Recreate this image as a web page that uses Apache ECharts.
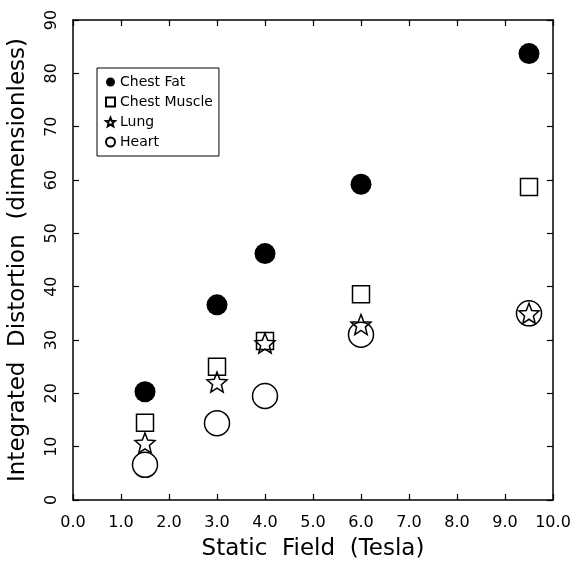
<!DOCTYPE html>
<html>
<head>
<meta charset="utf-8">
<script src="https://cdn.jsdelivr.net/npm/echarts@6/dist/echarts.min.js"></script>
<style>
  html, body { margin: 0; padding: 0; background: #fff; }
  #chart { width: 577px; height: 564px; }
</style>
</head>
<body>
<div id="chart"></div>
<script>
  // values
  var fieldT = [1.5, 3.0, 4.0, 6.0, 9.5];
  var chestFat = [20.3, 36.6, 46.2, 59.2, 83.7];
  var chestMuscle = [14.5, 25.0, 29.8, 38.6, 58.7];
  var lung = [10.7, 22.1, 29.4, 32.9, 35.0];
  var heart = [6.6, 14.4, 19.5, 31.0, 35.0];
  var xTicks = ['0.0', '1.0', '2.0', '3.0', '4.0', '5.0', '6.0', '7.0', '8.0', '9.0', '10.0'];

  var starPath = 'path://M50 0 L62.9 32.3 L97.55 34.55 L70.9 56.8 L79.39 90.45 L50 72 L20.61 90.45 L29.1 56.8 L2.45 34.55 L37.1 32.3 Z';
  var font = 'DejaVu Sans, sans-serif';

  function pairs(ys) {
    return fieldT.map(function (x, i) { return [x, ys[i]]; });
  }

  var hollow = { color: 'rgba(255,255,255,0)', borderColor: '#000', borderWidth: 1.5, opacity: 1 };
  var frameLine = { onZero: false, lineStyle: { color: '#000', width: 1.5 } };
  var tick = { inside: true, length: 6, lineStyle: { color: '#000', width: 1.2 } };

  var option = {
    animation: false,
    backgroundColor: '#fff',
    grid: { left: 73, right: 24, top: 20, bottom: 64, outerBoundsMode: 'none', containLabel: false },
    legend: {
      orient: 'vertical',
      left: 97,
      top: 68,
      borderColor: '#000',
      borderWidth: 1,
      borderRadius: 0,
      padding: [7, 6, 7, 8],
      itemGap: 6,
      itemWidth: 9,
      itemHeight: 9,
      textStyle: { fontFamily: font, fontSize: 14, color: '#000' },
      data: [
        { name: 'Chest Fat', icon: 'circle' },
        { name: 'Chest Muscle', icon: 'rect' },
        { name: 'Lung', icon: starPath },
        { name: 'Heart', icon: 'circle' }
      ]
    },
    xAxis: [{
      type: 'value',
      min: 0, max: 10, interval: 1,
      name: 'Static  Field  (Tesla)',
      nameLocation: 'middle',
      nameGap: 38,
      nameTextStyle: { fontFamily: font, fontSize: 23, color: '#000' },
      axisLine: frameLine,
      axisTick: tick,
      axisLabel: {
        fontFamily: font, fontSize: 16, color: '#000', margin: 15,
        formatter: function (v) { return xTicks[Math.round(v)]; }
      },
      splitLine: { show: false }
    }, {
      type: 'value', position: 'top',
      min: 0, max: 10, interval: 1,
      axisLine: frameLine,
      axisTick: tick,
      axisLabel: { show: false },
      splitLine: { show: false }
    }],
    yAxis: [{
      type: 'value',
      min: 0, max: 90, interval: 10,
      name: 'Integrated  Distortion  (dimensionless)',
      nameLocation: 'middle',
      nameRotate: 90,
      nameGap: 43,
      nameTextStyle: { fontFamily: font, fontSize: 23, color: '#000' },
      axisLine: frameLine,
      axisTick: tick,
      axisLabel: { fontFamily: font, fontSize: 16, color: '#000', rotate: 90, margin: 13 },
      splitLine: { show: false }
    }, {
      type: 'value', position: 'right',
      min: 0, max: 90, interval: 10,
      axisLine: frameLine,
      axisTick: tick,
      axisLabel: { show: false },
      splitLine: { show: false }
    }],
    series: [{
      name: 'Chest Fat',
      type: 'scatter',
      symbol: 'circle',
      symbolSize: 21,
      itemStyle: { color: '#000', opacity: 1 },
      data: pairs(chestFat)
    }, {
      name: 'Chest Muscle',
      type: 'scatter',
      symbol: 'rect',
      symbolSize: 17,
      itemStyle: hollow,
      data: pairs(chestMuscle)
    }, {
      name: 'Lung',
      type: 'scatter',
      symbol: starPath,
      symbolSize: 20,
      itemStyle: hollow,
      z: 3,
      data: pairs(lung)
    }, {
      name: 'Heart',
      type: 'scatter',
      symbol: 'circle',
      symbolSize: 25,
      itemStyle: hollow,
      z: 2,
      data: pairs(heart)
    }]
  };

  var chart = echarts.init(document.getElementById('chart'));
  chart.setOption(option);
</script>
</body>
</html>
